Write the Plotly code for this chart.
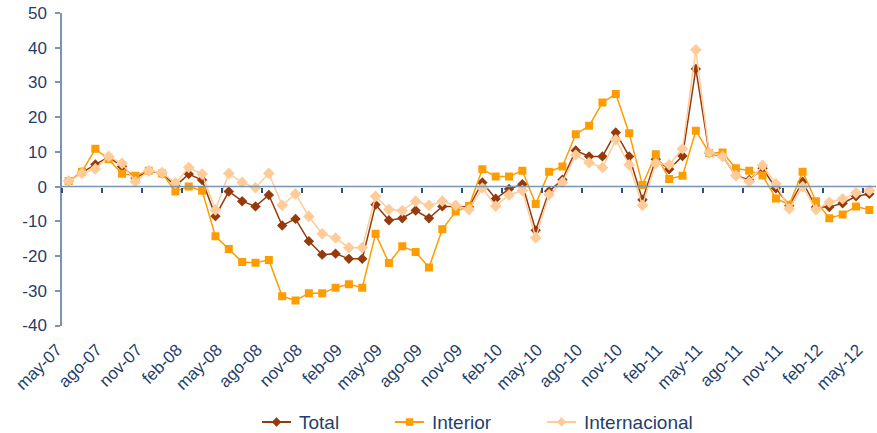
import plotly.graph_objs as go

# Data (monthly, may-07 .. may-12)
meses = ['ene', 'feb', 'mar', 'abr', 'may', 'jun', 'jul', 'ago', 'sep', 'oct', 'nov', 'dic']
periodos = [f"{meses[(4 + i) % 12]}-{(7 + (4 + i) // 12):02d}" for i in range(61)]

total = [1.6, 4.1, 6.4, 8.5, 5.8, 2.5, 4.5, 3.8, 0.2, 3.6, 1.9,
         -8.5, -1.4, -4.2, -5.7, -2.4, -11.2, -9.3, -15.7, -19.6, -19.3,
         -20.8, -20.8, -5.2, -9.7, -9.1, -6.9, -9.1, -5.7, -5.7, -5.8,
         1.2, -3.5, -0.7, 0.7, -12.6, -1.3, 2.0, 10.4, 8.7, 8.7,
         15.6, 8.7, -3.8, 7.9, 5.0, 8.8, 33.9, 9.6, 8.7, 3.2,
         1.9, 5.3, -0.5, -5.5, 1.4, -5.9, -5.9, -4.8, -2.8, -2.1]
interior = [1.6, 4.3, 10.9, 7.9, 3.7, 3.1, 4.6, 3.8, -1.4, 0.0, -1.2,
            -14.3, -18.0, -21.7, -21.9, -21.1, -31.6, -32.8, -30.7, -30.7, -29.1,
            -28.1, -29.1, -13.6, -22.0, -17.2, -18.8, -23.3, -12.3, -7.2, -5.6,
            5.0, 2.9, 2.9, 4.6, -5.0, 4.3, 5.8, 15.1, 17.5, 24.2,
            26.7, 15.4, 0.5, 9.3, 2.2, 3.1, 16.1, 9.7, 9.8, 5.3,
            4.6, 3.2, -3.4, -5.2, 4.3, -4.2, -9.1, -8.0, -5.7, -6.7]
internacional = [1.6, 3.8, 5.1, 8.7, 6.7, 1.4, 4.6, 4.0, 1.0, 5.5, 3.6,
                 -6.7, 3.8, 1.2, -0.3, 3.8, -5.4, -2.1, -8.6, -13.6, -14.8,
                 -17.6, -17.6, -2.8, -6.6, -6.9, -4.2, -5.4, -4.2, -5.4, -6.6,
                 -0.4, -5.6, -2.4, -1.1, -14.7, -2.3, 1.2, 9.1, 6.9, 5.5,
                 13.5, 6.3, -5.4, 6.7, 6.3, 10.9, 39.4, 9.8, 8.7, 3.2,
                 1.4, 6.1, 0.8, -6.4, 0.0, -6.6, -4.5, -3.5, -1.8, -1.1]

series_names = ['Total', 'Interior', 'Internacional']
series_colors = ['#963A0C', '#FF9C00', '#FFCC99']

y_ticks = list(range(-40, 51, 10))
y_labels = [str(v) for v in y_ticks]  # plain hyphen like the original

x = list(range(len(periodos)))
label_pos = x[::3]
label_text = periodos[::3]

axis_col = '#7A95B2'
tick_col = '#2E4F78'
text_col = '#1F3F6B'

W, H = 877, 433
ML, MR, MT, MB = 62, 1, 13, 0
PW, PH = W - ML - MR, H - MT - MB

# main axes occupy the top part; the legend sits below them
y_dom0 = 107.5 / PH
zero_pos = y_dom0 + (1 - y_dom0) * 40 / 90

fig = go.Figure()

fig.add_trace(go.Scatter(x=x, y=total, name=series_names[0], mode='lines+markers',
                         line=dict(color=series_colors[0], width=1.5),
                         marker=dict(symbol='diamond', size=8, color=series_colors[0])))
fig.add_trace(go.Scatter(x=x, y=interior, name=series_names[1], mode='lines+markers',
                         line=dict(color=series_colors[1], width=1.5),
                         marker=dict(symbol='square', size=8, color=series_colors[1])))
fig.add_trace(go.Scatter(x=x, y=internacional, name=series_names[2], mode='lines+markers',
                         line=dict(color=series_colors[2], width=1.5),
                         marker=dict(symbol='diamond', size=9, color=series_colors[2])))

# zero line with category tick marks (excel style)
fig.add_trace(go.Scatter(x=[-0.5, 60.5], y=[0, 0], xaxis='x2', mode='lines',
                         line=dict(color=axis_col, width=1.5), showlegend=False, hoverinfo='skip'))

# hand-made legend below the chart (pixel positions taken from the original)
def px_x(v):
    return (v - ML) / PW

leg_y = (H - 422) / PH
leg_items = [(262, 297, 'diamond'), (395, 430, 'square'), (547, 582, 'diamond')]
shapes = []
annotations = []
for (x0, tx, sym), name, col in zip(leg_items, series_names, series_colors):
    shapes.append(dict(type='line', xref='paper', yref='paper', x0=px_x(x0), x1=px_x(x0 + 29),
                       y0=leg_y, y1=leg_y, line=dict(color=col, width=2)))
    if sym == 'diamond':
        path = 'M0,4.5 L4.5,0 L0,-4.5 L-4.5,0 Z'
    else:
        path = 'M-3.5,-3.5 L3.5,-3.5 L3.5,3.5 L-3.5,3.5 Z'
    shapes.append(dict(type='path', xref='paper', yref='paper', xsizemode='pixel', ysizemode='pixel',
                       xanchor=px_x(x0 + 14.5), yanchor=leg_y, path=path,
                       fillcolor=col, line=dict(color=col, width=0.5)))
    annotations.append(dict(xref='paper', yref='paper', x=px_x(tx), y=leg_y, text=name,
                            showarrow=False, xanchor='left', yanchor='middle',
                            font=dict(size=19, color=text_col)))

fig.update_layout(
    width=W, height=H,
    margin=dict(l=ML, r=MR, t=MT, b=MB),
    plot_bgcolor='white', paper_bgcolor='white',
    font=dict(family='Liberation Sans, Arial', color=text_col, size=17),
    xaxis=dict(range=[-0.5, 60.5], tickmode='array', tickvals=[p - 0.5 for p in label_pos],
               ticktext=label_text, tickangle=-45, showgrid=False, zeroline=False,
               showline=False, ticks='', ticklabelstandoff=10, ticklabelshift=-5,
               automargin=False, tickfont=dict(size=17, color=text_col)),
    xaxis2=dict(range=[-0.5, 60.5], overlaying='x', anchor='free', position=zero_pos,
                tickmode='array', tickvals=[p - 0.5 for p in label_pos], showticklabels=False,
                ticks='outside', ticklen=5, tickcolor=tick_col, tickwidth=1.5,
                showline=False, showgrid=False, zeroline=False, automargin=False),
    yaxis=dict(domain=[y_dom0, 1], range=[-40, 50], tickmode='array', tickvals=y_ticks,
               ticktext=y_labels, showgrid=False, zeroline=False, showline=True,
               linecolor=axis_col, linewidth=1.5, ticks='outside', ticklen=5,
               tickcolor=axis_col, tickwidth=1.5, ticklabelstandoff=5, automargin=False,
               tickfont=dict(size=17, color=text_col)),
    showlegend=False,
    shapes=shapes,
    annotations=annotations,
)

# drop the default page margin so the figure sits at the window's top-left corner
fig.write_html("out.html", config={'displayModeBar': False},
               post_script="document.body.style.margin='0';")
